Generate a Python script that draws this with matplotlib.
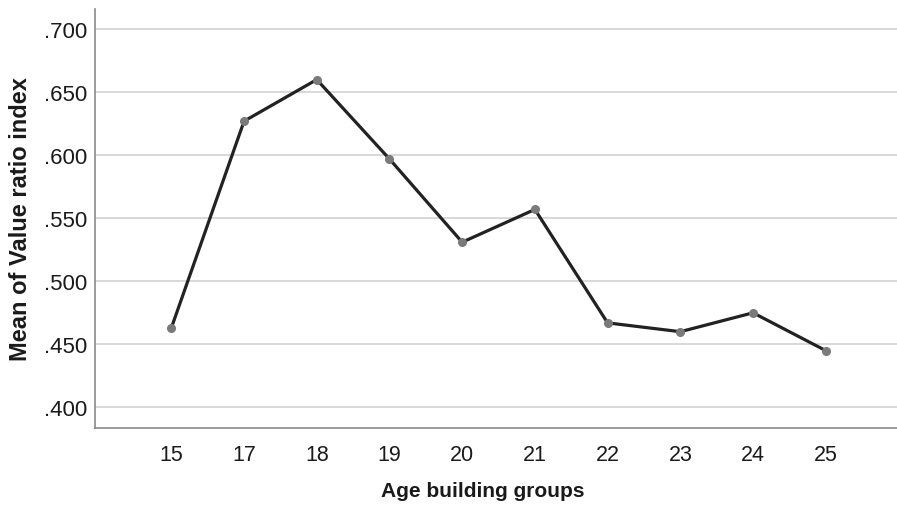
import matplotlib
matplotlib.use("Agg")
import matplotlib.pyplot as plt

# Mean value ratio index by age building group
age_groups = ["15", "17", "18", "19", "20", "21", "22", "23", "24", "25"]
mean_ratio = [0.463, 0.627, 0.660, 0.597, 0.531, 0.557, 0.467, 0.460, 0.475, 0.445]
y_ticks = [0.400, 0.450, 0.500, 0.550, 0.600, 0.650, 0.700]
y_tick_labels = [".400", ".450", ".500", ".550", ".600", ".650", ".700"]

plt.rcParams["font.family"] = ["Liberation Sans", "DejaVu Sans"]

fig = plt.figure(figsize=(8.97, 5.10), dpi=100)
ax = fig.add_axes([95 / 897, 1 - 428.5 / 510, 1 - 95 / 897, (428.5 - 10) / 510])

x = list(range(len(age_groups)))
ax.plot(x, mean_ratio, color="#222222", linewidth=2.3, zorder=3,
        solid_joinstyle="round")
ax.plot(x, mean_ratio, linestyle="none", marker="o", markersize=5.5,
        color="#7a7a7a", zorder=4)

ax.set_xlim(-1.05, 9.98)
ax.set_ylim(0.384, 0.716)
ax.set_yticks(y_ticks)
ax.set_yticklabels(y_tick_labels)
ax.set_xticks(x)
ax.set_xticklabels(age_groups)

ax.grid(axis="y", color="#d8d8d8", linewidth=1.4, zorder=1)
ax.set_axisbelow(True)

for side in ("top", "right"):
    ax.spines[side].set_visible(False)
for side in ("left", "bottom"):
    ax.spines[side].set_color("#8a8a8a")
    ax.spines[side].set_linewidth(1.2)

ax.tick_params(axis="both", length=0, colors="#1a1a1a")
ax.tick_params(axis="y", pad=5.5, labelsize=16)
ax.tick_params(axis="x", pad=12, labelsize=15.5)

ax.set_xlabel("Age building groups", fontsize=15, fontweight="bold",
              color="#1a1a1a")
ax.xaxis.set_label_coords(0.484, -0.128)
ax.set_ylabel("Mean of Value ratio index", fontsize=17, fontweight="bold",
              color="#1a1a1a")
ax.yaxis.set_label_coords(-0.079, 0.5)

fig.savefig("out.png", dpi=100, facecolor="white")
